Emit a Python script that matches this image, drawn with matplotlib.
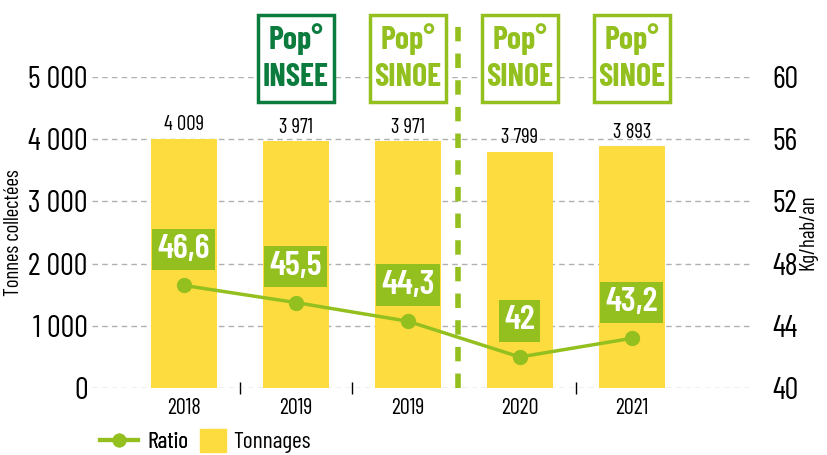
import numpy as np
import matplotlib.pyplot as plt
from matplotlib.lines import Line2D
from matplotlib.patches import Patch, Rectangle
from matplotlib.ticker import FuncFormatter
import matplotlib.transforms as mtransforms

plt.rcParams['font.family'] = ['Barlow Condensed', 'DejaVu Sans']

years = ['2018', '2019', '2019', '2020', '2021']
tonnages = [4009, 3971, 3971, 3799, 3893]
ratio = [46.6, 45.5, 44.3, 42, 43.2]
sources = [None, 'INSEE', 'SINOE', 'SINOE', 'SINOE']

YELLOW = '#FDDC3F'
LIGHT = '#93C01F'
DARK = '#0B7B3E'
GRID = '#B0B0B0'

fig = plt.figure(figsize=(8.28, 4.55), dpi=100)
ax = fig.add_axes([0.111, 0.147, 0.798, 0.684])
ax2 = ax.twinx()

x = np.arange(len(years))
ax.bar(x, tonnages, width=0.59, color=YELLOW, zorder=2)
for xi, v in zip(x, tonnages):
    lab = f'{v:,}'.replace(',', '\u2009')
    ax.annotate(lab, (xi, v), xytext=(0, 3), textcoords='offset points',
                ha='center', va='bottom', fontsize=15)

ax.set_ylim(0, 5000)
ax.set_xlim(-0.82, 5.08)
ax.set_yticks(range(0, 5001, 1000))
ax.yaxis.set_major_formatter(FuncFormatter(lambda v, p: f'{int(v):,}'.replace(',', '\u2009')))
ax.grid(axis='y', color=GRID, linestyle=(0, (4, 3)), linewidth=1, zorder=0)
ax.set_axisbelow(True)
ax.tick_params(axis='y', length=0, labelsize=22, pad=3)
ax.set_xticks(x)
ax.set_xticklabels(years, fontsize=16)
ax.tick_params(axis='x', length=0, pad=7)
ax.set_xticks([0.5, 1.5, 3.5], minor=True)
ax.tick_params(axis='x', which='minor', length=8, direction='inout', width=1)
ax.set_ylabel('Tonnes collectées', fontsize=15, labelpad=4)
for s in ax.spines.values():
    s.set_visible(False)

ax2.plot(x, ratio, color=LIGHT, linewidth=2.5, marker='o', markersize=10, zorder=3)
ax2.set_ylim(40, 60)
ax2.set_yticks(range(40, 61, 4))
ax2.tick_params(axis='y', length=0, labelsize=22, pad=14)
ax2.set_ylabel('Kg/hab/an', fontsize=15, labelpad=0)
for s in ax2.spines.values():
    s.set_visible(False)
for xi, r in zip(x, ratio):
    lab = f'{r:g}'.replace('.', ',')
    ax2.annotate(lab, (xi, r), xytext=(0, 26), textcoords='offset points',
                 ha='center', va='center', fontsize=25, fontweight='semibold', color='white',
                 bbox=dict(boxstyle='square,pad=0.15', fc=LIGHT, ec='none'))

# dashed separator between 2019 SINOE and 2020
trans = mtransforms.blended_transform_factory(ax.transData, ax.transAxes)
ax.plot([2.45, 2.45], [0, 1.2], transform=trans, color=LIGHT, linewidth=4,
        linestyle=(0, (2.6, 2.2)), clip_on=False, zorder=4)

# population source boxes
for xi, src in zip(x, sources):
    if src is None:
        continue
    c = DARK if src == 'INSEE' else LIGHT
    ax.add_patch(Rectangle((xi - 0.34, 0.92), 0.68, 0.28, transform=trans, fc='white',
                           ec=c, lw=2.5, clip_on=False, zorder=5))
    ax.text(xi, 1.12, 'Pop°', transform=trans, ha='center', va='center',
            fontsize=23, fontweight='bold', color=c, zorder=6)
    ax.text(xi, 0.997, src, transform=trans, ha='center', va='center',
            fontsize=23, fontweight='bold', color=c, zorder=6)

# legend, in two parts so the square keeps its own size
leg1 = fig.legend([Line2D([0], [0], color=LIGHT, lw=3, marker='o', markersize=9)], ['Ratio'],
                  loc='lower left', bbox_to_anchor=(0.095, -0.043), frameon=False,
                  fontsize=17, handlelength=1.6, handletextpad=0.4)
fig.add_artist(leg1)
fig.legend([Patch(color=YELLOW)], ['Tonnages'], loc='lower left',
           bbox_to_anchor=(0.216, -0.043), frameon=False, fontsize=17,
           handlelength=1.1, handleheight=1.1, handletextpad=0.3)

fig.savefig('out.png', dpi=100)
